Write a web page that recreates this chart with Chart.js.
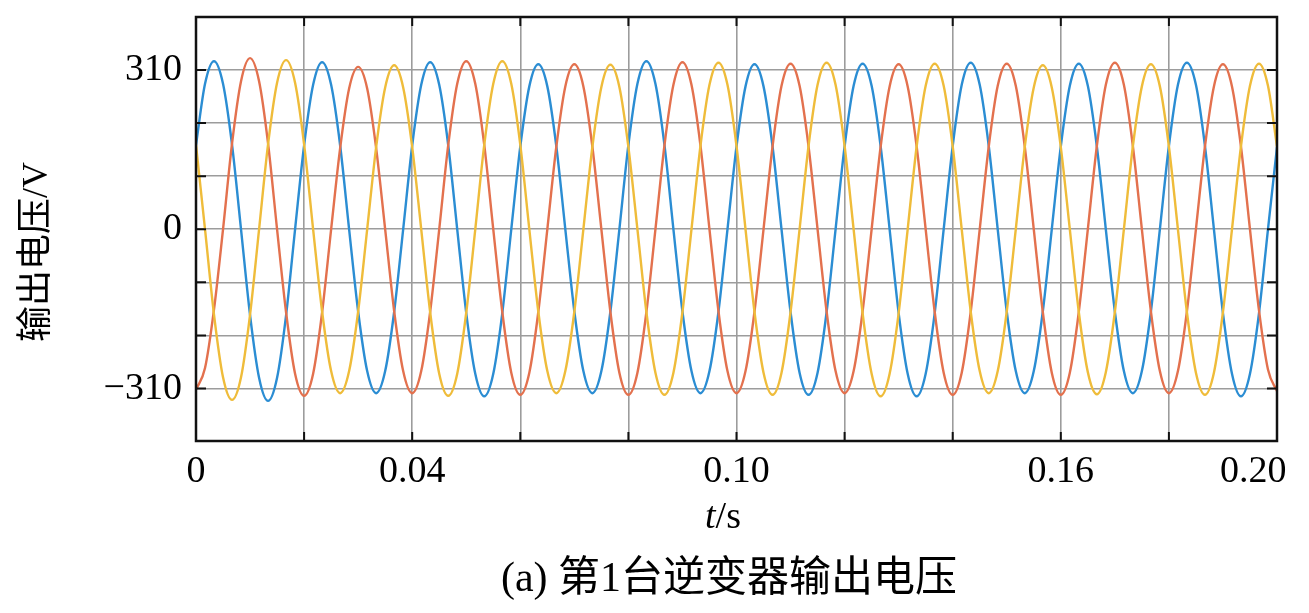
<!DOCTYPE html>
<html>
<head>
<meta charset="utf-8">
<script src="https://cdn.jsdelivr.net/npm/chart.js@4.4.1/dist/chart.umd.min.js"></script>
<style>
  body { margin: 0; background: #fff; }
  canvas { display: block; }
</style>
</head>
<body>
<canvas id="chart" width="1309" height="613"></canvas>
<script>
// sample times (s), one row per 20 ms period
const t = [
  0, 0.00167, 0.00333, 0.005, 0.00667, 0.00833, 0.01, 0.01167, 0.01333, 0.015, 0.01667, 0.01833,
  0.02, 0.02167, 0.02333, 0.025, 0.02667, 0.02833, 0.03, 0.03167, 0.03333, 0.035, 0.03667, 0.03833,
  0.04, 0.04167, 0.04333, 0.045, 0.04667, 0.04833, 0.05, 0.05167, 0.05333, 0.055, 0.05667, 0.05833,
  0.06, 0.06167, 0.06333, 0.065, 0.06667, 0.06833, 0.07, 0.07167, 0.07333, 0.075, 0.07667, 0.07833,
  0.08, 0.08167, 0.08333, 0.085, 0.08667, 0.08833, 0.09, 0.09167, 0.09333, 0.095, 0.09667, 0.09833,
  0.1, 0.10167, 0.10333, 0.105, 0.10667, 0.10833, 0.11, 0.11167, 0.11333, 0.115, 0.11667, 0.11833,
  0.12, 0.12167, 0.12333, 0.125, 0.12667, 0.12833, 0.13, 0.13167, 0.13333, 0.135, 0.13667, 0.13833,
  0.14, 0.14167, 0.14333, 0.145, 0.14667, 0.14833, 0.15, 0.15167, 0.15333, 0.155, 0.15667, 0.15833,
  0.16, 0.16167, 0.16333, 0.165, 0.16667, 0.16833, 0.17, 0.17167, 0.17333, 0.175, 0.17667, 0.17833,
  0.18, 0.18167, 0.18333, 0.185, 0.18667, 0.18833, 0.19, 0.19167, 0.19333, 0.195, 0.19667, 0.19833,
  0.2
];

// phase voltages (V)
const phaseA = [
  164, 283, 327, 283, 164, 0, -167, -289, -334, -289, -167, 0,
  163, 281, 325, 281, 163, 0, -160, -276, -319, -276, -160, 0,
  163, 281, 325, 281, 163, 0, -163, -281, -325, -281, -163, 0,
  161, 278, 321, 278, 161, 0, -160, -276, -319, -276, -160, 0,
  164, 283, 327, 283, 164, 0, -160, -276, -319, -276, -160, 0,
  161, 278, 321, 278, 161, 0, -161, -279, -322, -279, -161, 0,
  161, 279, 322, 279, 161, 0, -163, -281, -325, -281, -163, 0,
  162, 281, 324, 281, 162, 0, -160, -276, -319, -276, -160, 0,
  161, 279, 322, 279, 161, 0, -160, -276, -319, -276, -160, 0,
  162, 281, 324, 281, 162, 0, -163, -281, -325, -281, -163, 0,
  160
];
const phaseB = [
  -312, -270, -156, 0, 167, 288, 333, 288, 167, 0, -162, -281,
  -324, -281, -162, 0, 158, 274, 316, 274, 158, 0, -160, -276,
  -319, -276, -160, 0, 164, 283, 327, 283, 164, 0, -161, -279,
  -322, -279, -161, 0, 161, 278, 321, 278, 161, 0, -161, -279,
  -322, -279, -161, 0, 163, 281, 325, 281, 163, 0, -160, -276,
  -319, -276, -160, 0, 161, 279, 322, 279, 161, 0, -160, -276,
  -319, -276, -160, 0, 161, 278, 321, 278, 161, 0, -161, -279,
  -322, -279, -161, 0, 161, 279, 322, 279, 161, 0, -161, -279,
  -322, -279, -161, 0, 162, 281, 324, 281, 162, 0, -160, -276,
  -319, -276, -160, 0, 161, 278, 321, 278, 161, 0, -158, -273,
  -315
];
const phaseC = [
  164, 0, -166, -288, -332, -288, -166, 0, 165, 285, 329, 285,
  165, 0, -160, -276, -319, -276, -160, 0, 160, 276, 319, 276,
  160, 0, -162, -281, -324, -281, -162, 0, 164, 283, 327, 283,
  164, 0, -160, -276, -319, -276, -160, 0, 160, 277, 320, 277,
  160, 0, -161, -279, -322, -279, -161, 0, 162, 281, 324, 281,
  162, 0, -161, -279, -322, -279, -161, 0, 162, 281, 324, 281,
  162, 0, -163, -281, -325, -281, -163, 0, 161, 279, 322, 279,
  161, 0, -160, -276, -319, -276, -160, 0, 160, 276, 319, 276,
  160, 0, -161, -278, -321, -278, -161, 0, 161, 278, 321, 278,
  161, 0, -161, -279, -322, -279, -161, 0, 161, 279, 322, 279,
  161
];

const xTicks = [0, 0.02, 0.04, 0.06, 0.08, 0.1, 0.12, 0.14, 0.16, 0.18, 0.2];
const xTickLabels = ["0", "", "0.04", "", "", "0.10", "", "", "0.16", "", "0.20"];
const yTicks = [-310, -206.67, -103.33, 0, 103.33, 206.67, 310];
const yTickLabels = ["\u2212310", "", "", "0", "", "", "310"];

const serif = '"Liberation Serif", "Times New Roman", serif';
const cjk = '"Liberation Serif", "Noto Sans CJK SC", sans-serif';

const toPoints = (vals) => vals.map((v, i) => ({ x: t[i], y: v }));

function line(vals, color, order) {
  return {
    data: toPoints(vals),
    borderColor: color,
    borderWidth: 2.4,
    pointRadius: 0,
    cubicInterpolationMode: "monotone",
    order: order,
  };
}

// box, inward tick marks and the titles
const decor = {
  id: "decor",
  afterDatasetsDraw(chart) {
    const { ctx, chartArea: a, scales } = chart;
    ctx.save();
    ctx.strokeStyle = "#111";
    ctx.lineWidth = 2.5;
    ctx.strokeRect(a.left, a.top, a.right - a.left, a.bottom - a.top);
    ctx.lineWidth = 2;
    ctx.beginPath();
    xTicks.forEach((v) => {
      const px = scales.x.getPixelForValue(v);
      ctx.moveTo(px, a.bottom); ctx.lineTo(px, a.bottom - 9);
      ctx.moveTo(px, a.top); ctx.lineTo(px, a.top + 9);
    });
    yTicks.forEach((v) => {
      const py = scales.y.getPixelForValue(v);
      ctx.moveTo(a.left, py); ctx.lineTo(a.left + 10, py);
      ctx.moveTo(a.right, py); ctx.lineTo(a.right - 10, py);
    });
    ctx.stroke();

    ctx.fillStyle = "#000";
    ctx.textBaseline = "middle";

    // x title: italic t, upright /s
    ctx.font = "italic 38px " + serif;
    const wt = ctx.measureText("t").width;
    ctx.font = "38px " + serif;
    const ws = ctx.measureText("/s").width;
    let x0 = 723 - (wt + ws) / 2;
    ctx.textAlign = "left";
    ctx.font = "italic 38px " + serif;
    ctx.fillText("t", x0, 518);
    ctx.font = "38px " + serif;
    ctx.fillText("/s", x0 + wt, 518);

    // caption
    ctx.textAlign = "center";
    ctx.font = "42px " + cjk;
    ctx.fillText("(a) 第1台逆变器输出电压", 729, 580);

    // y title
    ctx.translate(38, 252);
    ctx.rotate(-Math.PI / 2);
    ctx.font = "36px " + cjk;
    ctx.fillText("输出电压/V", 0, 0);
    ctx.restore();
  },
};

new Chart(document.getElementById("chart"), {
  type: "line",
  data: {
    datasets: [
      line(phaseA, "#2b8dd3", 3),
      line(phaseB, "#e3714e", 2),
      line(phaseC, "#efbc3a", 1),
    ],
  },
  options: {
    responsive: false,
    animation: false,
    layout: { padding: { top: 17, right: 32, left: 0, bottom: 0 } },
    plugins: { legend: { display: false }, tooltip: { enabled: false } },
    scales: {
      x: {
        type: "linear",
        min: 0,
        max: 0.2,
        afterBuildTicks: (s) => { s.ticks = xTicks.map((v) => ({ value: v })); },
        afterFit: (s) => { s.height = 172; s.paddingLeft = 0; s.paddingRight = 0; },
        border: { display: false },
        grid: { color: "#9c9c9c", lineWidth: 1.6, drawTicks: false },
        ticks: {
          autoSkip: false,
          maxRotation: 0,
          padding: 8,
          color: "#000",
          font: { family: serif, size: 38 },
          // last label sits a bit left of its tick in the original
          callback: (v, i) => (i === xTicks.length - 1 ? xTickLabels[i] + "     " : xTickLabels[i]),
        },
      },
      y: {
        min: -412,
        max: 413,
        afterBuildTicks: (s) => { s.ticks = yTicks.map((v) => ({ value: v })); },
        afterFit: (s) => { s.width = 196; s.paddingTop = 0; s.paddingBottom = 0; },
        border: { display: false },
        grid: { color: "#9c9c9c", lineWidth: 1.6, drawTicks: false },
        ticks: {
          padding: 14,
          color: "#000",
          font: { family: serif, size: 38 },
          callback: (v, i) => yTickLabels[i],
        },
      },
    },
  },
  plugins: [decor],
});
</script>
</body>
</html>
